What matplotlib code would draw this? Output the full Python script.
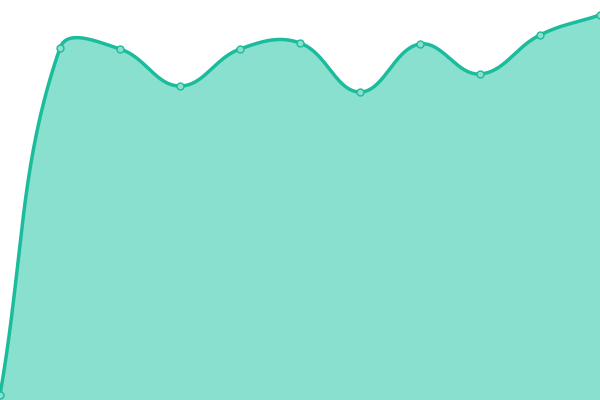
import numpy as np
import matplotlib
matplotlib.use("Agg")
import matplotlib.pyplot as plt

# data (0..400 scale)
x_vals = [0, 1, 2, 3, 4, 5, 6, 7, 8, 9, 10]
y_vals = [5, 352, 351, 314, 351, 357, 308, 356, 326, 365, 385]

LINE = "#1abc9c"
FILL = "#89e0cf"
X_PX = 60.0  # pixels per x unit, so the smoothing works in screen space
TENSION = 0.4


def control_points(px, py, t):
    """Spline control points (prev side, next side) for each point."""
    m = len(px)
    cps = []
    for i in range(m):
        pv = (px[max(i - 1, 0)], py[max(i - 1, 0)])
        nx = (px[min(i + 1, m - 1)], py[min(i + 1, m - 1)])
        cur = (px[i], py[i])
        d01 = np.hypot(cur[0] - pv[0], cur[1] - pv[1])
        d12 = np.hypot(nx[0] - cur[0], nx[1] - cur[1])
        tot = d01 + d12
        s01 = d01 / tot if tot else 0
        s12 = d12 / tot if tot else 0
        fa, fb = t * s01, t * s12
        vx, vy = nx[0] - pv[0], nx[1] - pv[1]
        cps.append(((cur[0] - fa * vx, cur[1] - fa * vy),
                    (cur[0] + fb * vx, cur[1] + fb * vy)))
    return cps


def smooth_path(xs, ys, n=40):
    px = np.asarray(xs, float) * X_PX
    py = np.asarray(ys, float)
    cps = control_points(px, py, TENSION)
    out_x, out_y = [], []
    tt = np.linspace(0, 1, n, endpoint=False)[:, None]
    for i in range(1, len(px)):
        p0 = np.array([px[i - 1], py[i - 1]])
        c0 = np.array(cps[i - 1][1])
        c1 = np.array(cps[i][0])
        p1 = np.array([px[i], py[i]])
        pts = ((1 - tt) ** 3 * p0 + 3 * (1 - tt) ** 2 * tt * c0
               + 3 * (1 - tt) * tt ** 2 * c1 + tt ** 3 * p1)
        out_x.append(pts[:, 0])
        out_y.append(pts[:, 1])
    out_x.append([px[-1]])
    out_y.append([py[-1]])
    return np.concatenate(out_x) / X_PX, np.concatenate(out_y)


sx, sy = smooth_path(x_vals, y_vals)

fig = plt.figure(figsize=(6, 4), dpi=100)
ax = fig.add_axes([0, 0, 1, 1])
ax.fill_between(sx, 0, sy, color=FILL, linewidth=0)
ax.plot(sx, sy, color=LINE, linewidth=2.5, solid_capstyle="round")
ax.plot(x_vals, y_vals, "o", markersize=5, markerfacecolor=FILL,
        markeredgecolor=LINE, markeredgewidth=1, clip_on=False)
ax.set_xlim(0, 10)
ax.set_ylim(0, 400)
ax.axis("off")
fig.savefig("out.png", dpi=100)
